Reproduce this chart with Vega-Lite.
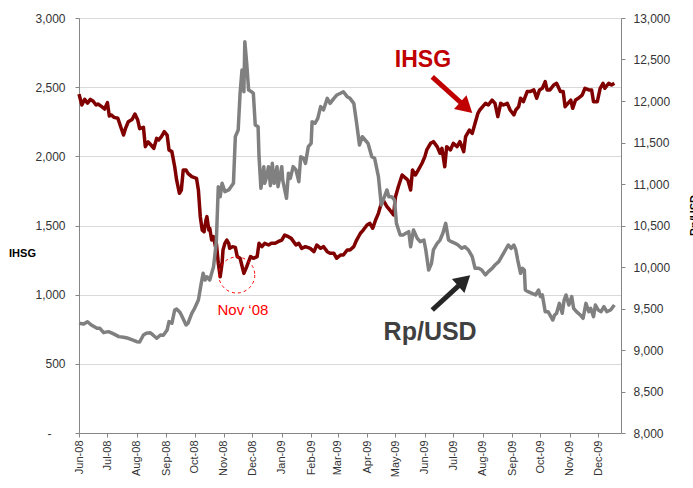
{
  "$schema": "https://vega.github.io/schema/vega-lite/v6.json",
  "width": 542,
  "height": 415,
  "autosize": {"type": "none"},
  "padding": {"left": 79, "top": 18, "right": 72, "bottom": 55},
  "background": "white",
  "config": {
    "view": {"stroke": null},
    "font": "Liberation Sans",
    "axis": {"labelFont": "Liberation Sans", "labelColor": "#333333", "domainColor": "#868686", "tickColor": "#868686", "labelFlush": false, "labelOverlap": false}
  },
  "datasets": {
    "ihsg": [
      {"date":"2008-06-01","ihsg":2450},{"date":"2008-06-04","ihsg":2371},{"date":"2008-06-07","ihsg":2412},{"date":"2008-06-10","ihsg":2385},{"date":"2008-06-13","ihsg":2412},{"date":"2008-06-16","ihsg":2398},{"date":"2008-06-19","ihsg":2371},{"date":"2008-06-21","ihsg":2378},{"date":"2008-06-25","ihsg":2359},{"date":"2008-06-28","ihsg":2342},
      {"date":"2008-07-01","ihsg":2388},{"date":"2008-07-03","ihsg":2292},{"date":"2008-07-05","ihsg":2299},{"date":"2008-07-08","ihsg":2282},{"date":"2008-07-12","ihsg":2275},{"date":"2008-07-15","ihsg":2214},{"date":"2008-07-18","ihsg":2154},{"date":"2008-07-20","ihsg":2200},{"date":"2008-07-23","ihsg":2250},{"date":"2008-07-27","ihsg":2266},{"date":"2008-07-30","ihsg":2306},
      {"date":"2008-08-02","ihsg":2262},{"date":"2008-08-04","ihsg":2200},{"date":"2008-08-08","ihsg":2210},{"date":"2008-08-10","ihsg":2070},{"date":"2008-08-13","ihsg":2104},{"date":"2008-08-16","ihsg":2082},{"date":"2008-08-19","ihsg":2058},{"date":"2008-08-22","ihsg":2130},{"date":"2008-08-24","ihsg":2118},{"date":"2008-08-27","ihsg":2142},{"date":"2008-08-30","ihsg":2178},
      {"date":"2008-09-02","ihsg":2154},{"date":"2008-09-04","ihsg":2046},{"date":"2008-09-07","ihsg":2034},{"date":"2008-09-10","ihsg":1925},{"date":"2008-09-12","ihsg":1829},{"date":"2008-09-15","ihsg":1733},{"date":"2008-09-17","ihsg":1756},{"date":"2008-09-19","ihsg":1901},{"date":"2008-09-22","ihsg":1901},{"date":"2008-09-24","ihsg":1877},{"date":"2008-09-28","ihsg":1853},
      {"date":"2008-10-03","ihsg":1841},{"date":"2008-10-05","ihsg":1757},{"date":"2008-10-07","ihsg":1564},{"date":"2008-10-09","ihsg":1467},{"date":"2008-10-11","ihsg":1455},{"date":"2008-10-13","ihsg":1540},{"date":"2008-10-14","ihsg":1564},{"date":"2008-10-16","ihsg":1467},{"date":"2008-10-17","ihsg":1480},{"date":"2008-10-19","ihsg":1395},{"date":"2008-10-21","ihsg":1419},{"date":"2008-10-23","ihsg":1347},{"date":"2008-10-24","ihsg":1371},{"date":"2008-10-26","ihsg":1227},{"date":"2008-10-28","ihsg":1130},{"date":"2008-10-30","ihsg":1227},{"date":"2008-10-31","ihsg":1323},
      {"date":"2008-11-02","ihsg":1371},{"date":"2008-11-04","ihsg":1395},{"date":"2008-11-06","ihsg":1371},{"date":"2008-11-07","ihsg":1335},{"date":"2008-11-10","ihsg":1347},{"date":"2008-11-13","ihsg":1342},{"date":"2008-11-15","ihsg":1275},{"date":"2008-11-18","ihsg":1263},{"date":"2008-11-22","ihsg":1154},{"date":"2008-11-25","ihsg":1202},{"date":"2008-11-29","ihsg":1275},
      {"date":"2008-12-02","ihsg":1263},{"date":"2008-12-06","ihsg":1275},{"date":"2008-12-08","ihsg":1371},{"date":"2008-12-11","ihsg":1347},{"date":"2008-12-14","ihsg":1371},{"date":"2008-12-18","ihsg":1359},{"date":"2008-12-21","ihsg":1371},{"date":"2008-12-25","ihsg":1371},{"date":"2008-12-28","ihsg":1383},
      {"date":"2009-01-01","ihsg":1395},{"date":"2009-01-04","ihsg":1431},{"date":"2009-01-08","ihsg":1419},{"date":"2009-01-11","ihsg":1407},{"date":"2009-01-16","ihsg":1359},{"date":"2009-01-19","ihsg":1371},{"date":"2009-01-22","ihsg":1335},{"date":"2009-01-26","ihsg":1347},{"date":"2009-01-31","ihsg":1335},
      {"date":"2009-02-04","ihsg":1311},{"date":"2009-02-07","ihsg":1359},{"date":"2009-02-11","ihsg":1335},{"date":"2009-02-14","ihsg":1347},{"date":"2009-02-18","ihsg":1311},{"date":"2009-02-21","ihsg":1299},{"date":"2009-02-25","ihsg":1299},{"date":"2009-02-28","ihsg":1263},
      {"date":"2009-03-04","ihsg":1287},{"date":"2009-03-07","ihsg":1287},{"date":"2009-03-11","ihsg":1323},{"date":"2009-03-14","ihsg":1323},{"date":"2009-03-18","ihsg":1347},{"date":"2009-03-21","ihsg":1395},{"date":"2009-03-25","ihsg":1444},{"date":"2009-03-28","ihsg":1467},
      {"date":"2009-04-01","ihsg":1504},{"date":"2009-04-04","ihsg":1516},{"date":"2009-04-07","ihsg":1480},{"date":"2009-04-10","ihsg":1540},{"date":"2009-04-13","ihsg":1588},{"date":"2009-04-16","ihsg":1660},{"date":"2009-04-18","ihsg":1684},{"date":"2009-04-22","ihsg":1636},{"date":"2009-04-25","ihsg":1612},{"date":"2009-04-29","ihsg":1576},
      {"date":"2009-05-01","ihsg":1708},{"date":"2009-05-04","ihsg":1780},{"date":"2009-05-08","ihsg":1865},{"date":"2009-05-12","ihsg":1841},{"date":"2009-05-14","ihsg":1829},{"date":"2009-05-17","ihsg":1757},{"date":"2009-05-19","ihsg":1901},{"date":"2009-05-22","ihsg":1865},{"date":"2009-05-25","ihsg":1901},{"date":"2009-05-29","ihsg":1950},
      {"date":"2009-06-01","ihsg":1998},{"date":"2009-06-03","ihsg":2046},{"date":"2009-06-07","ihsg":2094},{"date":"2009-06-10","ihsg":2106},{"date":"2009-06-14","ihsg":2070},{"date":"2009-06-17","ihsg":2022},{"date":"2009-06-19","ihsg":2058},{"date":"2009-06-22","ihsg":1925},{"date":"2009-06-24","ihsg":2070},{"date":"2009-06-28","ihsg":2046},
      {"date":"2009-07-01","ihsg":2094},{"date":"2009-07-05","ihsg":2070},{"date":"2009-07-08","ihsg":2106},{"date":"2009-07-12","ihsg":2034},{"date":"2009-07-14","ihsg":2142},{"date":"2009-07-18","ihsg":2190},{"date":"2009-07-21","ihsg":2166},{"date":"2009-07-24","ihsg":2239},{"date":"2009-07-27","ihsg":2311},{"date":"2009-07-29","ihsg":2335},
      {"date":"2009-08-01","ihsg":2359},{"date":"2009-08-04","ihsg":2383},{"date":"2009-08-07","ihsg":2371},{"date":"2009-08-11","ihsg":2407},{"date":"2009-08-14","ihsg":2383},{"date":"2009-08-17","ihsg":2287},{"date":"2009-08-20","ihsg":2383},{"date":"2009-08-23","ihsg":2371},{"date":"2009-08-27","ihsg":2383},{"date":"2009-08-30","ihsg":2335},
      {"date":"2009-09-03","ihsg":2299},{"date":"2009-09-05","ihsg":2335},{"date":"2009-09-08","ihsg":2359},{"date":"2009-09-10","ihsg":2420},{"date":"2009-09-13","ihsg":2395},{"date":"2009-09-17","ihsg":2468},{"date":"2009-09-20","ihsg":2468},{"date":"2009-09-24","ihsg":2480},{"date":"2009-09-27","ihsg":2420},{"date":"2009-09-30","ihsg":2480},
      {"date":"2009-10-03","ihsg":2492},{"date":"2009-10-06","ihsg":2540},{"date":"2009-10-08","ihsg":2480},{"date":"2009-10-11","ihsg":2480},{"date":"2009-10-15","ihsg":2516},{"date":"2009-10-18","ihsg":2528},{"date":"2009-10-22","ihsg":2468},{"date":"2009-10-25","ihsg":2468},{"date":"2009-10-27","ihsg":2359},{"date":"2009-10-30","ihsg":2383},
      {"date":"2009-11-02","ihsg":2407},{"date":"2009-11-04","ihsg":2347},{"date":"2009-11-07","ihsg":2407},{"date":"2009-11-10","ihsg":2420},{"date":"2009-11-14","ihsg":2443},{"date":"2009-11-17","ihsg":2492},{"date":"2009-11-21","ihsg":2480},{"date":"2009-11-24","ihsg":2480},{"date":"2009-11-26","ihsg":2395},{"date":"2009-11-30","ihsg":2395},
      {"date":"2009-12-03","ihsg":2492},{"date":"2009-12-06","ihsg":2528},{"date":"2009-12-08","ihsg":2492},{"date":"2009-12-12","ihsg":2528},{"date":"2009-12-15","ihsg":2516},{"date":"2009-12-18","ihsg":2528}
    ],
    "rupiah": [
      {"date":"2008-06-01","rp":9322},{"date":"2008-06-06","rp":9313},{"date":"2008-06-10","rp":9341},{"date":"2008-06-14","rp":9301},{"date":"2008-06-20","rp":9261},{"date":"2008-06-23","rp":9261},{"date":"2008-06-27","rp":9209},
      {"date":"2008-07-02","rp":9221},{"date":"2008-07-07","rp":9197},{"date":"2008-07-13","rp":9161},{"date":"2008-07-18","rp":9153},{"date":"2008-07-23","rp":9141},{"date":"2008-07-28","rp":9120},
      {"date":"2008-08-01","rp":9100},{"date":"2008-08-04","rp":9096},{"date":"2008-08-08","rp":9181},{"date":"2008-08-11","rp":9201},{"date":"2008-08-15","rp":9209},{"date":"2008-08-18","rp":9181},{"date":"2008-08-22","rp":9141},{"date":"2008-08-26","rp":9181},{"date":"2008-08-29","rp":9177},
      {"date":"2008-09-02","rp":9241},{"date":"2008-09-04","rp":9342},{"date":"2008-09-07","rp":9322},{"date":"2008-09-10","rp":9482},{"date":"2008-09-12","rp":9494},{"date":"2008-09-15","rp":9462},{"date":"2008-09-17","rp":9422},{"date":"2008-09-22","rp":9301},{"date":"2008-09-24","rp":9322},{"date":"2008-09-28","rp":9442},
      {"date":"2008-10-01","rp":9502},{"date":"2008-10-05","rp":9602},{"date":"2008-10-08","rp":9803},{"date":"2008-10-10","rp":9924},{"date":"2008-10-12","rp":9843},{"date":"2008-10-14","rp":9883},{"date":"2008-10-17","rp":9843},{"date":"2008-10-19","rp":9924},{"date":"2008-10-21","rp":10004},{"date":"2008-10-23","rp":10205},{"date":"2008-10-24","rp":10325},{"date":"2008-10-26","rp":10967},{"date":"2008-10-28","rp":10847},{"date":"2008-10-30","rp":11008},
      {"date":"2008-11-02","rp":10908},{"date":"2008-11-06","rp":10928},{"date":"2008-11-11","rp":11008},{"date":"2008-11-13","rp":11570},{"date":"2008-11-16","rp":11651},{"date":"2008-11-18","rp":12093},{"date":"2008-11-20","rp":12373},{"date":"2008-11-22","rp":12112},{"date":"2008-11-23","rp":12714},{"date":"2008-11-25","rp":12454},{"date":"2008-11-27","rp":12132},{"date":"2008-11-30","rp":12112},
      {"date":"2008-12-02","rp":12093},{"date":"2008-12-04","rp":11711},{"date":"2008-12-07","rp":11691},{"date":"2008-12-08","rp":11329},{"date":"2008-12-10","rp":10948},{"date":"2008-12-13","rp":11209},{"date":"2008-12-14","rp":11008},{"date":"2008-12-16","rp":11088},{"date":"2008-12-18","rp":11209},{"date":"2008-12-20","rp":10980},{"date":"2008-12-22","rp":11249},{"date":"2008-12-24","rp":11008},{"date":"2008-12-27","rp":11209},{"date":"2008-12-28","rp":10968},
      {"date":"2009-01-01","rp":11209},{"date":"2009-01-02","rp":11048},{"date":"2009-01-06","rp":10828},{"date":"2009-01-08","rp":11129},{"date":"2009-01-10","rp":11068},{"date":"2009-01-13","rp":11209},{"date":"2009-01-16","rp":11169},{"date":"2009-01-19","rp":11028},{"date":"2009-01-21","rp":11329},{"date":"2009-01-24","rp":11309},{"date":"2009-01-26","rp":11249},{"date":"2009-01-29","rp":11450},
      {"date":"2009-02-01","rp":11490},{"date":"2009-02-02","rp":11751},{"date":"2009-02-05","rp":11731},{"date":"2009-02-08","rp":11791},{"date":"2009-02-11","rp":11932},{"date":"2009-02-14","rp":11892},{"date":"2009-02-18","rp":12032},{"date":"2009-02-21","rp":11972},{"date":"2009-02-25","rp":12032},{"date":"2009-02-28","rp":12072},
      {"date":"2009-03-04","rp":12093},{"date":"2009-03-07","rp":12112},{"date":"2009-03-11","rp":12052},{"date":"2009-03-14","rp":12032},{"date":"2009-03-18","rp":11972},{"date":"2009-03-21","rp":11731},{"date":"2009-03-24","rp":11470},{"date":"2009-03-27","rp":11570},{"date":"2009-03-30","rp":11530},
      {"date":"2009-04-02","rp":11490},{"date":"2009-04-06","rp":11329},{"date":"2009-04-09","rp":11309},{"date":"2009-04-13","rp":11088},{"date":"2009-04-16","rp":10747},{"date":"2009-04-18","rp":10807},{"date":"2009-04-22","rp":10928},{"date":"2009-04-24","rp":10847},{"date":"2009-04-27","rp":10847},{"date":"2009-04-30","rp":10807},
      {"date":"2009-05-02","rp":10526},{"date":"2009-05-06","rp":10386},{"date":"2009-05-09","rp":10386},{"date":"2009-05-12","rp":10406},{"date":"2009-05-15","rp":10426},{"date":"2009-05-17","rp":10245},{"date":"2009-05-20","rp":10446},{"date":"2009-05-24","rp":10345},{"date":"2009-05-27","rp":10305},{"date":"2009-05-31","rp":10325},
      {"date":"2009-06-02","rp":10205},{"date":"2009-06-05","rp":9964},{"date":"2009-06-08","rp":10044},{"date":"2009-06-10","rp":10205},{"date":"2009-06-14","rp":10285},{"date":"2009-06-17","rp":10325},{"date":"2009-06-20","rp":10406},{"date":"2009-06-23","rp":10526},{"date":"2009-06-26","rp":10325},{"date":"2009-06-29","rp":10305},
      {"date":"2009-07-03","rp":10285},{"date":"2009-07-06","rp":10265},{"date":"2009-07-10","rp":10225},{"date":"2009-07-13","rp":10245},{"date":"2009-07-17","rp":10205},{"date":"2009-07-21","rp":10124},{"date":"2009-07-24","rp":9984},{"date":"2009-07-28","rp":9984},{"date":"2009-07-31","rp":9964},
      {"date":"2009-08-04","rp":9904},{"date":"2009-08-07","rp":9944},{"date":"2009-08-11","rp":9984},{"date":"2009-08-14","rp":10024},{"date":"2009-08-18","rp":10064},{"date":"2009-08-21","rp":10124},{"date":"2009-08-25","rp":10205},{"date":"2009-08-28","rp":10265},{"date":"2009-08-31","rp":10225},
      {"date":"2009-09-03","rp":10265},{"date":"2009-09-05","rp":10205},{"date":"2009-09-07","rp":10084},{"date":"2009-09-10","rp":9924},{"date":"2009-09-12","rp":9984},{"date":"2009-09-14","rp":9964},{"date":"2009-09-15","rp":9723},{"date":"2009-09-18","rp":9703},{"date":"2009-09-22","rp":9683},{"date":"2009-09-26","rp":9663},{"date":"2009-09-29","rp":9723},
      {"date":"2009-10-01","rp":9643},{"date":"2009-10-03","rp":9663},{"date":"2009-10-06","rp":9462},{"date":"2009-10-09","rp":9462},{"date":"2009-10-11","rp":9422},{"date":"2009-10-14","rp":9361},{"date":"2009-10-16","rp":9422},{"date":"2009-10-18","rp":9442},{"date":"2009-10-21","rp":9562},{"date":"2009-10-24","rp":9442},{"date":"2009-10-26","rp":9602},{"date":"2009-10-28","rp":9663},{"date":"2009-10-31","rp":9542},
      {"date":"2009-11-03","rp":9643},{"date":"2009-11-05","rp":9502},{"date":"2009-11-08","rp":9462},{"date":"2009-11-12","rp":9422},{"date":"2009-11-15","rp":9382},{"date":"2009-11-18","rp":9562},{"date":"2009-11-21","rp":9462},{"date":"2009-11-23","rp":9502},{"date":"2009-11-26","rp":9401},{"date":"2009-11-28","rp":9542},
      {"date":"2009-12-01","rp":9482},{"date":"2009-12-04","rp":9462},{"date":"2009-12-07","rp":9522},{"date":"2009-12-10","rp":9462},{"date":"2009-12-14","rp":9482},{"date":"2009-12-18","rp":9542}
    ],
    "circle": [{"date": "2008-11-14T12:00:00Z", "ihsg": 1142}],
    "novLabel": [{"date": "2008-11-21T00:00:00Z", "ihsg": 853, "label": "Nov \u201808"}],
    "ihsgLabel": [{"date": "2009-05-30T00:00:00Z", "ihsg": 2648, "label": "IHSG"}],
    "rpLabel": [{"date": "2009-06-06T14:00:00Z", "ihsg": 672, "label": "Rp/USD"}],
    "redArrow": [{"date": "2009-06-08T19:00:00Z", "ihsg": 2574}, {"date": "2009-07-14T17:00:00Z", "ihsg": 2353}],
    "redHead": [{"date": "2009-07-14T17:00:00Z", "ihsg": 2353}],
    "darkArrow": [{"date": "2009-06-08T19:00:00Z", "ihsg": 889}, {"date": "2009-07-12T12:00:00Z", "ihsg": 1102}],
    "darkHead": [{"date": "2009-07-12T12:00:00Z", "ihsg": 1102}]
  },
  "encoding": {
    "x": {
      "field": "date",
      "type": "temporal",
      "scale": {"type": "utc", "domain": [{"year": 2008, "month": 6, "date": 1, "utc": true}, {"year": 2009, "month": 12, "date": 25, "utc": true}]},
      "axis": {
        "title": null,
        "format": "%b-%y",
        "values": [
          {"year": 2008, "month": 6, "date": 1, "utc": true}, {"year": 2008, "month": 7, "date": 1, "utc": true}, {"year": 2008, "month": 8, "date": 1, "utc": true}, {"year": 2008, "month": 9, "date": 1, "utc": true}, {"year": 2008, "month": 10, "date": 1, "utc": true}, {"year": 2008, "month": 11, "date": 1, "utc": true}, {"year": 2008, "month": 12, "date": 1, "utc": true},
          {"year": 2009, "month": 1, "date": 1, "utc": true}, {"year": 2009, "month": 2, "date": 1, "utc": true}, {"year": 2009, "month": 3, "date": 1, "utc": true}, {"year": 2009, "month": 4, "date": 1, "utc": true}, {"year": 2009, "month": 5, "date": 1, "utc": true}, {"year": 2009, "month": 6, "date": 1, "utc": true}, {"year": 2009, "month": 7, "date": 1, "utc": true}, {"year": 2009, "month": 8, "date": 1, "utc": true}, {"year": 2009, "month": 9, "date": 1, "utc": true}, {"year": 2009, "month": 10, "date": 1, "utc": true}, {"year": 2009, "month": 11, "date": 1, "utc": true}, {"year": 2009, "month": 12, "date": 1, "utc": true}
        ],
        "labelAngle": 270,
        "labelAlign": "right",
        "labelBaseline": "middle",
        "labelPadding": 3,
        "labelFontSize": 11,
        "tickSize": 4,
        "grid": false
      }
    }
  },
  "layer": [
    {
      "encoding": {
        "y": {
          "field": "ihsg",
          "type": "quantitative",
          "scale": {"domain": [0, 3000]},
          "axis": {
            "orient": "left",
            "values": [0, 500, 1000, 1500, 2000, 2500, 3000],
            "labelExpr": "datum.value == 0 ? '-' : format(datum.value, ',')",
            "labelPadding": {"condition": {"test": "datum.value == 0", "value": 24}, "value": 10},
            "grid": true,
            "gridColor": "#D9D9D9",
            "tickSize": 4,
            "labelFontSize": 12,
            "title": "IHSG",
            "titleAngle": 0,
            "titleX": -57,
            "titleY": 235,
            "titleAlign": "center",
            "titleBaseline": "middle",
            "titleFont": "Liberation Sans",
            "titleFontWeight": "bold",
            "titleFontSize": 11,
            "titleColor": "#000000"
          }
        }
      },
      "layer": [
        {
          "data": {"name": "ihsg"},
          "mark": {"type": "line", "color": "#800000", "strokeWidth": 3.5, "strokeJoin": "round"}
        },
        {
          "data": {"name": "circle"},
          "mark": {"type": "point", "shape": "circle", "size": 1296, "filled": false, "stroke": "#FF0000", "strokeWidth": 1, "strokeDash": [3, 3], "opacity": 1}
        },
        {
          "data": {"name": "novLabel"},
          "mark": {"type": "text", "font": "Liberation Sans", "fontSize": 15, "color": "#FF0000", "align": "center", "baseline": "alphabetic"},
          "encoding": {"text": {"field": "label"}}
        },
        {
          "data": {"name": "ihsgLabel"},
          "mark": {"type": "text", "font": "Liberation Sans", "fontSize": 23, "fontWeight": "bold", "color": "#C00000", "align": "center", "baseline": "alphabetic"},
          "encoding": {"text": {"field": "label"}}
        },
        {
          "data": {"name": "rpLabel"},
          "mark": {"type": "text", "font": "Liberation Sans", "fontSize": 25, "fontWeight": "bold", "color": "#404040", "align": "center", "baseline": "alphabetic"},
          "encoding": {"text": {"field": "label"}}
        },
        {
          "data": {"name": "redArrow"},
          "mark": {"type": "line", "color": "#C00000", "strokeWidth": 5, "strokeCap": "butt"}
        },
        {
          "data": {"name": "redHead"},
          "mark": {"type": "point", "shape": "triangle-up", "size": 350, "filled": true, "color": "#C00000", "opacity": 1, "angle": 132}
        },
        {
          "data": {"name": "darkArrow"},
          "mark": {"type": "line", "color": "#262626", "strokeWidth": 5, "strokeCap": "butt"}
        },
        {
          "data": {"name": "darkHead"},
          "mark": {"type": "point", "shape": "triangle-up", "size": 350, "filled": true, "color": "#262626", "opacity": 1, "angle": 48}
        }
      ]
    },
    {
      "data": {"name": "rupiah"},
      "mark": {"type": "line", "color": "#808080", "strokeWidth": 3.5, "strokeJoin": "round"},
      "encoding": {
        "y": {
          "field": "rp",
          "type": "quantitative",
          "scale": {"domain": [8000, 13000]},
          "axis": {
            "orient": "right",
            "values": [8000, 8500, 9000, 9500, 10000, 10500, 11000, 11500, 12000, 12500, 13000],
            "format": ",.0f",
            "grid": false,
            "tickSize": 4,
            "labelPadding": 8,
            "labelFontSize": 12,
            "title": "Rp/USD",
            "titleAngle": 270,
            "titleX": 67,
            "titleY": 197,
            "titleAlign": "center",
            "titleBaseline": "top",
            "titleFont": "Liberation Sans",
            "titleFontWeight": "bold",
            "titleFontSize": 11,
            "titleColor": "#000000"
          }
        }
      }
    }
  ],
  "resolve": {"scale": {"y": "independent"}}
}
